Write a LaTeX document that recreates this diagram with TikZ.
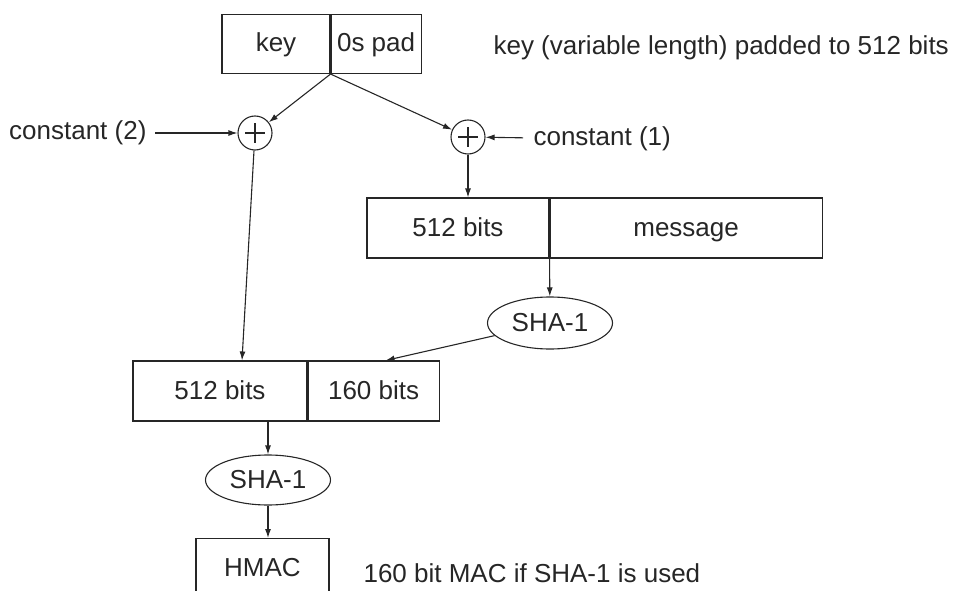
\documentclass[tikz,border=0pt]{standalone}
\usepackage{fontspec}
\setmainfont{Liberation Sans}
\usetikzlibrary{shapes.geometric, arrows.meta}
\begin{document}
\begin{tikzpicture}[x=1pt, y=-1pt, line width=1.1pt, color=black!85,
    font=\fontsize{26}{31}\selectfont,
    cell/.style={draw, rectangle, inner sep=0pt, minimum height=60pt, text height=19pt, text depth=3pt},
    hash/.style={draw, ellipse, inner sep=0pt, minimum width=125pt, minimum height=52pt},
    xorop/.style={draw, circle, inner sep=0pt, minimum size=34pt,
        path picture={\draw (path picture bounding box.center) ++(-10pt,0) -- ++(20pt,0);
                      \draw (path picture bounding box.center) ++(0,-10pt) -- ++(0,20pt);}},
    flow/.style={-{Latex[length=9pt, width=6pt]}},
    note/.style={inner sep=0pt}]
    \clip (0,0) rectangle (953,591);
    % Key block
    \node[cell, minimum height=59pt, minimum width=108pt] (key) at (276,44) {key};
    \node[cell, minimum height=59pt, minimum width=90pt, anchor=west] (pad) at (key.east) {0s pad};
    \node[note, anchor=west] (keynote) at (493,48) {key (variable length) padded to 512 bits};
    % XOR with constants
    \node[xorop] (xorout) at (255,133) {};
    \node[xorop] (xorin) at (468,137) {};
    \node[note, anchor=east] (c2) at (147,133) {constant (2)};
    \node[note, anchor=west] (c1) at (533,139) {constant (1)};
    % Inner hash
    \node[cell, minimum width=182pt] (msgkey) at (458,228) {512 bits};
    \node[cell, minimum width=272pt, anchor=west] (msg) at (msgkey.east) {message};
    \node[hash] (sha1in) at (550,323) {SHA-1};
    % Outer hash
    \node[cell, minimum width=174pt] (inkey) at (220,391) {512 bits};
    \node[cell, minimum width=131pt, anchor=west] (inhash) at (inkey.east) {160 bits};
    \node[hash, minimum height=50pt] (sha1out) at (268,480) {SHA-1};
    \node[cell, minimum width=133pt, anchor=north] (hmac) at (262.5,538) {HMAC};
    \node[note, anchor=west] (macnote) at (363,573) {160 bit MAC if SHA-1 is used};
    % Arrows
    \draw[flow] (key.south east) -- (xorout);
    \draw[flow] (key.south east) -- (xorin);
    \draw[flow, shorten <=8pt] (c2) -- (xorout);
    \draw[flow, shorten <=10pt] (c1) -- (xorin);
    \draw[flow] (xorin) -- (xorin |- msgkey.north);
    \draw[flow] (xorout) -- ([xshift=22pt]inkey.north);
    \draw[flow] (msgkey.south east) -- (sha1in);
    \draw[flow] (sha1in) -- ([xshift=12pt]inhash.north);
    \draw[flow] (sha1out |- inkey.south) -- (sha1out);
    \draw[flow] (sha1out) -- (sha1out |- hmac.north);
\end{tikzpicture}
\end{document}
